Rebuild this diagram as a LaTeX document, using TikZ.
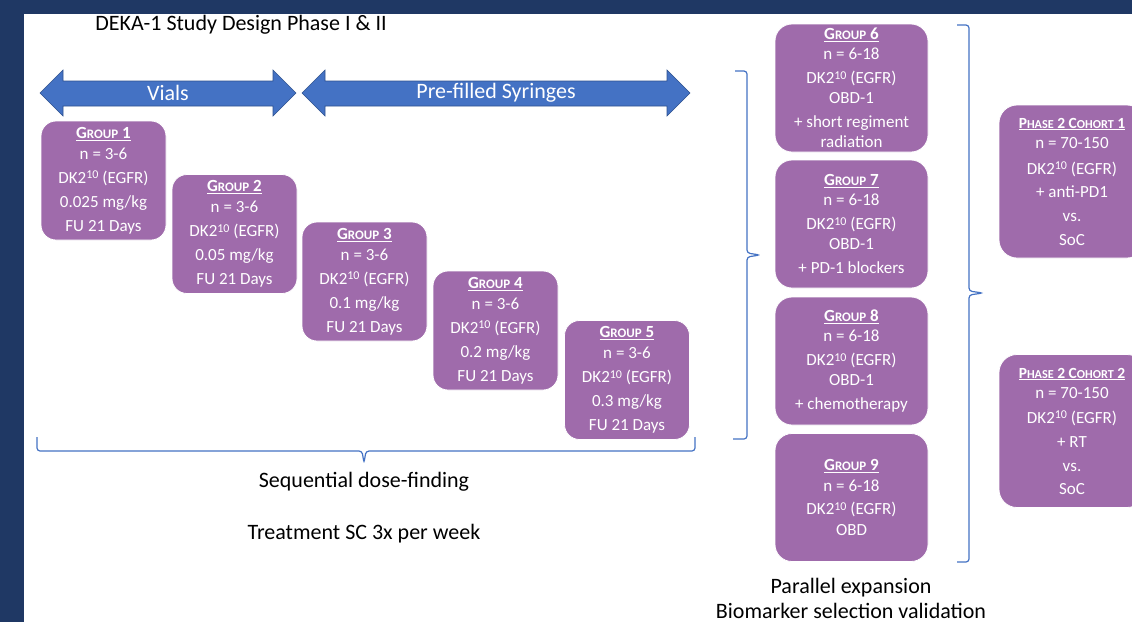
\documentclass[tikz,border=0pt]{standalone}
\usepackage{fontspec}
\setmainfont{Carlito}
\definecolor{navy}{RGB}{31,56,100}
\definecolor{grp}{RGB}{159,107,171}
\definecolor{arr}{RGB}{68,114,196}
\definecolor{arrd}{RGB}{47,82,143}
\newcommand\hdr[3]{\underline{\textbf{#1{\fontsize{13}{13}\selectfont #2}#3}}}
\newcommand\chdr[5]{\underline{\textbf{\fontsize{15.5}{15.5}\selectfont #1{\fontsize{12.2}{12.2}\selectfont #2} #3{\fontsize{12.2}{12.2}\selectfont #4} #5}}}
\newcommand\dk{DK2{\raisebox{0.55ex}{\fontsize{12}{12}\selectfont 10}} (EGFR)}
\tikzset{
  grpbox/.style={draw=white, line width=0.8pt, fill=grp, rounded corners=15pt,
    minimum width=125pt, minimum height=119pt, text=white, align=center,
    font=\fontsize{17}{20}\selectfont, inner sep=0pt},
  bigbox/.style={grpbox, minimum width=153pt, minimum height=128pt, rounded corners=17pt},
  cohbox/.style={grpbox, minimum width=146pt, minimum height=153pt, rounded corners=18pt},
  bracefig/.style={draw=arr, line width=1.2pt, rounded corners=3pt},
  arrowfig/.style={fill=arr, draw=arrd, line width=0.6pt},
  lbl/.style={font=\fontsize{22}{26}\selectfont, text=black, inner sep=0pt},
  arrlbl/.style={font=\fontsize{22}{26}\selectfont, text=white, inner sep=0pt},
}
\begin{document}
\begin{tikzpicture}[x=1pt, y=-1pt]
\useasboundingbox (0,0) rectangle (1132,622);
\clip (0,0) rectangle (1132,622);
\fill[navy] (0,0) rectangle (1132,622);
\fill[white] (24,14) rectangle (1132,622);

\node[lbl] (title) at (241,25) {DEKA-1 Study Design Phase I \& II};

% double arrows
\path[arrowfig] (40,93) -- (63,70) -- (63,81) -- (273,81) -- (273,70) -- (296,93)
  -- (273,116) -- (273,106) -- (63,106) -- (63,116) -- cycle;
\node[arrlbl] (vials) at (168,93) {Vials};
\path[arrowfig] (302,93) -- (325,70) -- (325,81) -- (667,81) -- (667,70) -- (690,93)
  -- (667,116) -- (667,106) -- (325,106) -- (325,116) -- cycle;
\node[arrlbl] (pfs) at (496,93) {Pre-filled Syringes};

% dose finding groups
\node[grpbox] (g1) at (103.5,180.5) {\hdr{G}{ROUP}{ 1}\\[1pt] n = 3-6\\[4pt] \dk\\[4pt] 0.025 mg/kg\\[4pt] FU 21 Days};
\node[grpbox] (g2) at (234.5,234) {\hdr{G}{ROUP}{ 2}\\[1pt] n = 3-6\\[4pt] \dk\\[4pt] 0.05 mg/kg\\[4pt] FU 21 Days};
\node[grpbox] (g3) at (364.5,281.5) {\hdr{G}{ROUP}{ 3}\\[1pt] n = 3-6\\[4pt] \dk\\[4pt] 0.1 mg/kg\\[4pt] FU 21 Days};
\node[grpbox] (g4) at (495.5,330.5) {\hdr{G}{ROUP}{ 4}\\[1pt] n = 3-6\\[4pt] \dk\\[4pt] 0.2 mg/kg\\[4pt] FU 21 Days};
\node[grpbox] (g5) at (627,380) {\hdr{G}{ROUP}{ 5}\\[1pt] n = 3-6\\[4pt] \dk\\[4pt] 0.3 mg/kg\\[4pt] FU 21 Days};

% expansion groups
\node[bigbox] (g6) at (851.5,88) {\hdr{G}{ROUP}{ 6}\\ n = 6-18\\[4pt] \dk\\ OBD-1\\[4pt] + short regiment\\ radiation};
\node[bigbox] (g7) at (851.5,224) {\hdr{G}{ROUP}{ 7}\\ n = 6-18\\[4pt] \dk\\ OBD-1\\[4pt] + PD-1 blockers};
\node[bigbox] (g8) at (851.5,361) {\hdr{G}{ROUP}{ 8}\\ n = 6-18\\[4pt] \dk\\ OBD-1\\[4pt] + chemotherapy};
\node[bigbox] (g9) at (851.5,497.5) {\hdr{G}{ROUP}{ 9}\\[1pt] n = 6-18\\[3pt] \dk\\[1pt] OBD};

% phase 2 cohorts
\node[cohbox] (c1) at (1072,181.5) {\chdr{P}{HASE}{2 C}{OHORT}{1}\\ n = 70-150\\[6pt] \dk\\[3pt] + anti-PD1\\[4pt] vs.\\[4pt] SoC};
\node[cohbox] (c2) at (1072,431) {\chdr{P}{HASE}{2 C}{OHORT}{2}\\ n = 70-150\\[5pt] \dk\\[4pt] + RT\\[4pt] vs.\\[3pt] SoC};

% braces
\draw[bracefig] (37,437) -- (37,451) -- (362,451) -- (364,463) -- (366,451) -- (695,451) -- (695,437);
\draw[bracefig] (735,71) -- (747,71) -- (747,253) -- (760,255) -- (747,257) -- (747,439) -- (733,439);
\draw[bracefig] (957,25) -- (969,25) -- (969,291) -- (983,293) -- (969,295) -- (969,562) -- (957,562);

% labels
\node[lbl] (seq) at (364,482) {Sequential dose-finding};
\node[lbl] (treat) at (364,534) {Treatment SC 3x per week};
\node[lbl] (par) at (851,588) {Parallel expansion};
\node[lbl] (bio) at (851,611) {Biomarker selection validation};
\end{tikzpicture}
\end{document}
